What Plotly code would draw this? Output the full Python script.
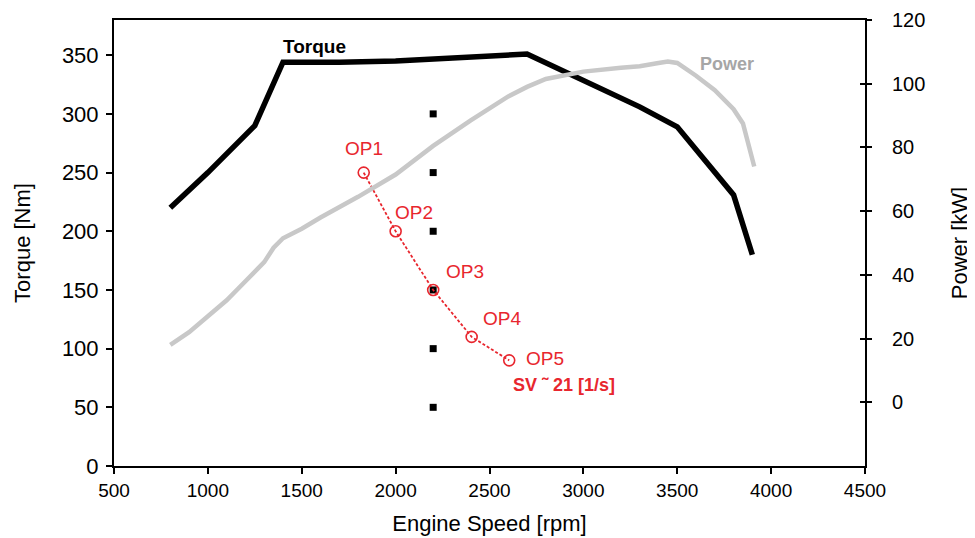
import plotly.graph_objects as go

# engine torque curve
torque_rpm = [800, 1000, 1250, 1400, 1700, 2000, 2700, 3300, 3500, 3800, 3900]
torque_nm = [220, 250, 290, 344, 344, 345, 351, 306, 289, 231, 180]

# engine power curve
power_rpm = [800, 900, 1000, 1100, 1200, 1300, 1350, 1400, 1500, 1600, 1800, 2000, 2200, 2400,
             2600, 2700, 2800, 3000, 3200, 3300, 3400, 3450, 3500, 3600, 3700, 3800, 3850, 3880, 3910]
power_kw = [18, 22, 27, 32, 38, 44, 48.5, 51.5, 54.5, 58, 64.5, 71.5, 80.5, 88.5,
            96, 99, 101.5, 103.8, 105, 105.5, 106.5, 107, 106.5, 102.5, 98, 92, 87.5, 80, 74]

# load points at constant speed
grid_rpm = [2200, 2200, 2200, 2200, 2200, 2200]
grid_nm = [300, 250, 200, 150, 100, 50]

# operating points
op_names = ["OP1", "OP2", "OP3", "OP4", "OP5"]
op_rpm = [1830, 2000, 2200, 2405, 2605]
op_nm = [250, 200, 150, 110, 90]

red = "#e8262e"
font = "Liberation Sans, Arial, sans-serif"

fig = go.Figure()
fig.add_trace(go.Scatter(x=power_rpm, y=power_kw, yaxis="y2", mode="lines",
                         line=dict(color="#c8c8c8", width=4.5), name="Power"))
fig.add_trace(go.Scatter(x=torque_rpm, y=torque_nm, mode="lines",
                         line=dict(color="black", width=5.5), name="Torque"))
fig.add_trace(go.Scatter(x=grid_rpm, y=grid_nm, mode="markers",
                         marker=dict(symbol="square", size=7, color="black"), name="grid"))
fig.add_trace(go.Scatter(x=op_rpm, y=op_nm, mode="lines+markers",
                         line=dict(color=red, width=1.8, dash="3px,2px"),
                         marker=dict(symbol="circle-open", size=11, color=red, line=dict(width=1.6)),
                         name="OP"))

# labels next to the operating points
offsets = [(0, -24), (18, -19), (32, -18), (30, -18), (36, -2)]
for name, x, y, (dx, dy) in zip(op_names, op_rpm, op_nm, offsets):
    fig.add_annotation(x=x, y=y, text=name, showarrow=False, xshift=dx, yshift=-dy,
                       font=dict(family=font, size=19, color=red))
fig.add_annotation(x=2600, y=90, text="<b>SV ˜ 21 [1/s]</b>", showarrow=False,
                   xshift=56, yshift=-25, font=dict(family=font, size=18, color=red))
fig.add_annotation(x=1400, y=344, text="<b>Torque</b>", showarrow=False,
                   xanchor="left", xshift=-2, yshift=16, font=dict(family=font, size=19, color="black"))
fig.add_annotation(x=3450, y=107, yref="y2", text="<b>Power</b>", showarrow=False,
                   xanchor="left", xshift=30, yshift=-3, font=dict(family=font, size=18, color="#a6a6a6"))

fig.update_layout(
    width=975, height=538,
    margin=dict(l=106, r=118, t=12, b=80),
    plot_bgcolor="white", paper_bgcolor="white",
    showlegend=False,
    font=dict(family=font, color="black"),
    xaxis=dict(range=[500, 4500], dtick=500, showgrid=False, zeroline=False,
               showline=True, linecolor="black", linewidth=2, mirror=True,
               ticks="outside", ticklen=6, tickwidth=2, tickcolor="black",
               tickfont=dict(size=19), automargin="bottom",
               title=dict(text="Engine Speed [rpm]", font=dict(size=22), standoff=16)),
    yaxis=dict(range=[0, 380], tickvals=[0, 50, 100, 150, 200, 250, 300, 350],
               showgrid=False, zeroline=False,
               showline=True, linecolor="black", linewidth=2,
               ticks="outside", ticklen=6, tickwidth=2, tickcolor="black",
               tickfont=dict(size=22), ticklabelstandoff=3, automargin="left",
               title=dict(text="Torque [Nm]", font=dict(size=22), standoff=25)),
    yaxis2=dict(range=[-20, 120], tickvals=[0, 20, 40, 60, 80, 100, 120],
                overlaying="y", side="right", showgrid=False, zeroline=False,
                showline=True, linecolor="black", linewidth=2,
                ticks="outside", ticklen=5, tickwidth=2, tickcolor="black",
                tickfont=dict(size=20), ticklabelstandoff=16, automargin="right",
                title=dict(text="Power [kW]", font=dict(size=22), standoff=27)),
    yaxis3=dict(range=[-20, 120], tickvals=[0, 20, 40, 60, 80, 100, 120],
                overlaying="y", side="right", showgrid=False, zeroline=False,
                showline=False, showticklabels=False, automargin=False,
                ticks="inside", ticklen=5, tickwidth=2, tickcolor="black"),
)
# dummy trace so the inner tick axis is drawn
fig.add_trace(go.Scatter(x=[None], y=[None], yaxis="y3", showlegend=False, hoverinfo="skip"))

fig.write_html("out.html")
